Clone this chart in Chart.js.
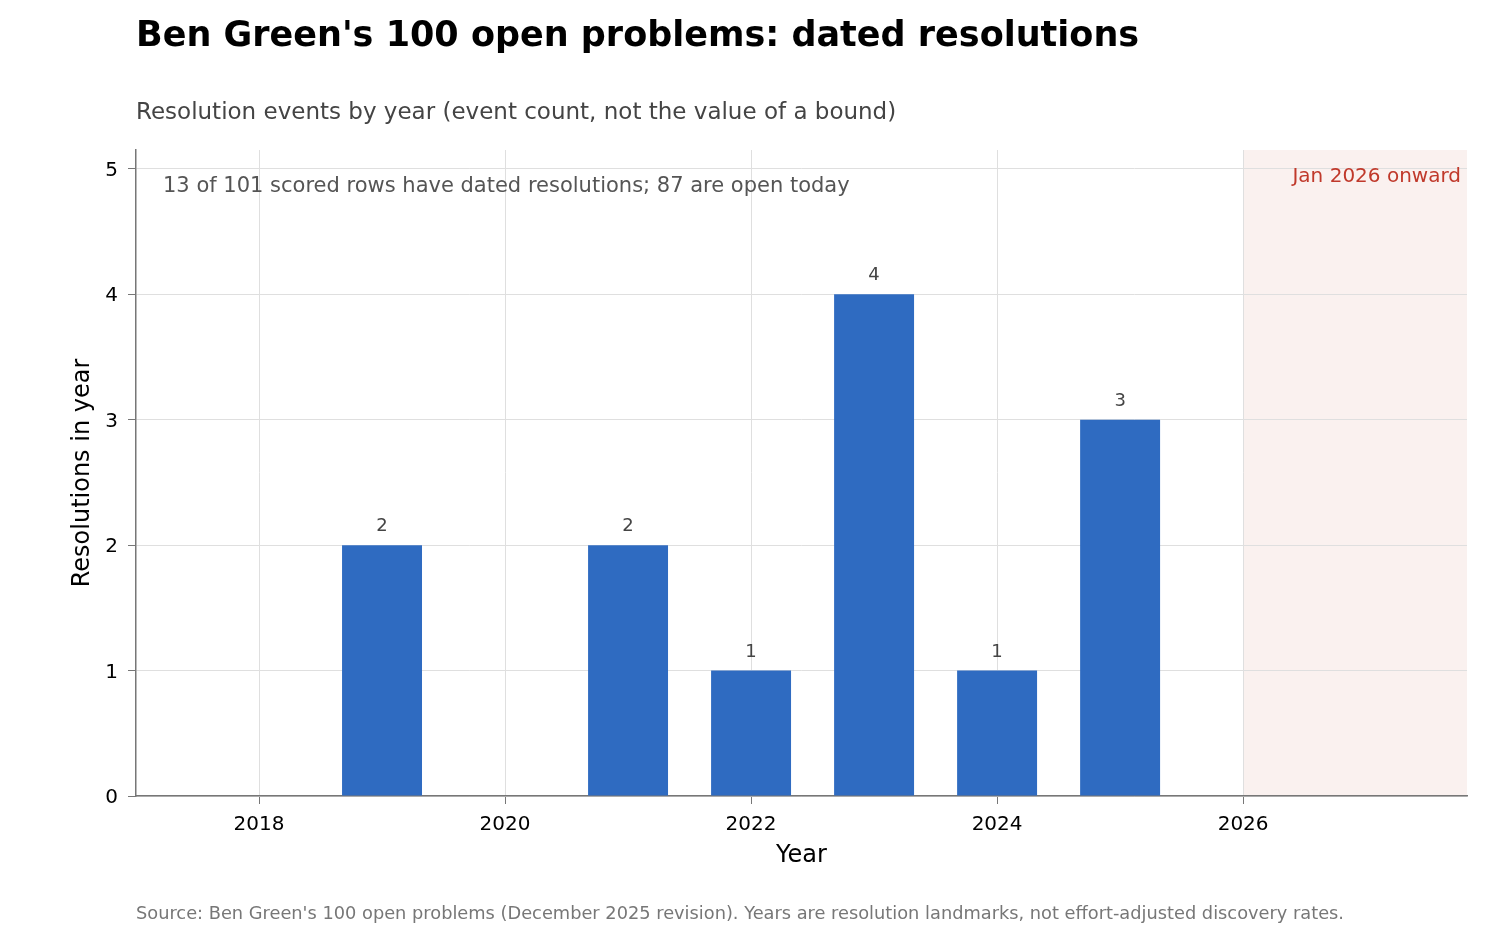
<!DOCTYPE html>
<html>
<head>
<meta charset="utf-8">
<script src="https://cdn.jsdelivr.net/npm/chart.js@4.4.0/dist/chart.umd.min.js"></script>
<style>
  html, body { margin: 0; padding: 0; background: #fff; }
  #wrap { width: 1512px; height: 936px; }
</style>
</head>
<body>
<div id="wrap"><canvas id="c" width="1512" height="936"></canvas></div>
<script>
/* ── Data ── */
const years   = [2019, 2021, 2022, 2023, 2024, 2025];
const counts  = [2, 2, 1, 4, 1, 3];
const xTicks  = [2018, 2020, 2022, 2024, 2026];
const yTicks  = [0, 1, 2, 3, 4, 5];
const cutoffYear = 2026;

const TITLE    = "Ben Green's 100 open problems: dated resolutions";
const SUBTITLE = 'Resolution events by year (event count, not the value of a bound)';
const NOTE     = '13 of 101 scored rows have dated resolutions; 87 are open today';
const CUTOFF   = 'Jan 2026 onward';
const SOURCE   = "Source: Ben Green's 100 open problems (December 2025 revision). Years are resolution landmarks, not effort-adjusted discovery rates.";

const FONT = "'DejaVu Sans', 'Noto Sans', sans-serif";

/* ── Shaded "future" region, drawn under the grid ── */
const shadePlugin = {
  id: 'shade',
  beforeDraw(chart) {
    const { ctx, chartArea: a, scales: { x } } = chart;
    const x0 = x.getPixelForValue(cutoffYear);
    ctx.save();
    ctx.fillStyle = '#faf1ef';
    ctx.fillRect(x0, a.top, a.right - x0, a.bottom - a.top);
    ctx.restore();
  }
};

/* ── Value labels, titles, notes ── */
const textPlugin = {
  id: 'texts',
  afterDatasetsDraw(chart) {
    const { ctx } = chart;
    const meta = chart.getDatasetMeta(0);
    ctx.save();
    ctx.font = '18px ' + FONT;
    ctx.fillStyle = '#444';
    ctx.textAlign = 'center';
    ctx.textBaseline = 'alphabetic';
    meta.data.forEach((bar, i) => {
      ctx.fillText(String(counts[i]), bar.x, bar.y - 14);
    });
    ctx.restore();
  },
  afterDraw(chart) {
    const { ctx, chartArea: a } = chart;
    ctx.save();
    ctx.textBaseline = 'alphabetic';
    ctx.textAlign = 'left';

    ctx.font = 'bold 35px ' + FONT;
    ctx.fillStyle = '#000';
    ctx.fillText(TITLE, a.left, 46);

    ctx.font = '23px ' + FONT;
    ctx.fillStyle = '#444';
    ctx.fillText(SUBTITLE, a.left, 119);

    ctx.font = '21px ' + FONT;
    ctx.fillStyle = '#555';
    ctx.fillText(NOTE, a.left + 27, 192);

    ctx.font = '20px ' + FONT;
    ctx.textAlign = 'right';
    ctx.fillStyle = '#c0392b';
    ctx.fillText(CUTOFF, a.right - 6, 182);

    ctx.textAlign = 'left';
    ctx.font = '17.8px ' + FONT;
    ctx.fillStyle = '#777';
    ctx.fillText(SOURCE, a.left, 919);
    ctx.restore();
  }
};

new Chart(document.getElementById('c'), {
  type: 'bar',
  data: {
    datasets: [{
      label: 'Resolutions',
      data: years.map((y, i) => ({ x: y, y: counts[i] })),
      backgroundColor: '#2f6bc1',
      borderWidth: 0,
      categoryPercentage: 1,
      barPercentage: 0.65,
    }]
  },
  options: {
    responsive: false,
    animation: false,
    devicePixelRatio: 1,
    layout: { padding: { top: 150, right: 45, bottom: 40, left: 0 } },
    plugins: {
      legend:  { display: false },
      tooltip: { enabled: false },
    },
    scales: {
      x: {
        type: 'linear',
        offset: false,
        min: 2017,
        max: 2027.82,
        afterBuildTicks: s => { s.ticks = xTicks.map(v => ({ value: v })); },
        afterFit: s => { s.height = 100; },
        grid:   { offset: false, color: '#dfdfdf', lineWidth: 1, tickLength: 8, tickColor: '#777' },
        border: { color: '#777', width: 1.5 },
        ticks:  { color: '#000', padding: 9, font: { family: FONT, size: 20 }, callback: v => String(v) },
        title:  { display: true, text: 'Year', color: '#000', font: { family: FONT, size: 24 }, padding: { top: 0, bottom: 26 } },
      },
      y: {
        min: 0,
        max: 5.15,
        afterBuildTicks: s => { s.ticks = yTicks.map(v => ({ value: v })); },
        afterFit: s => { s.width = 136; },
        grid:   { color: '#dfdfdf', lineWidth: 1, tickLength: 8, tickColor: '#777' },
        border: { color: '#777', width: 1.5 },
        ticks:  { color: '#000', padding: 10, labelOffset: 2, font: { family: FONT, size: 20 } },
        title:  { display: true, text: 'Resolutions in year', color: '#000', font: { family: FONT, size: 24 }, padding: { top: 68, bottom: 0 } },
      }
    }
  },
  plugins: [shadePlugin, textPlugin]
});
</script>
</body>
</html>
